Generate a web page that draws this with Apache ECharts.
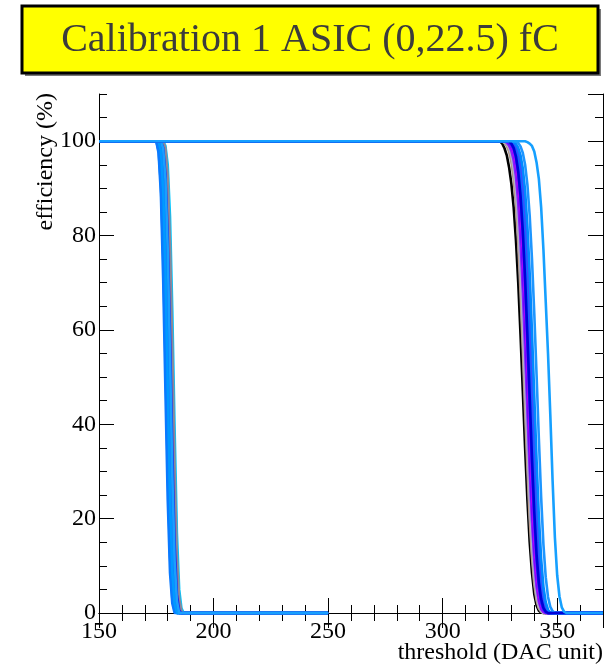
<!DOCTYPE html>
<html>
<head>
<meta charset="utf-8">
<title>Calibration 1 ASIC (0,22.5) fC</title>
<script src="https://cdn.jsdelivr.net/npm/echarts@6/dist/echarts.min.js"></script>
<style>
  html, body { margin: 0; padding: 0; background: #ffffff; }
  #chart { width: 605px; height: 665px; }
</style>
</head>
<body>
<div id="chart"></div>
<script>
// ---- Threshold scans, one curve per channel ----
// Each scan is 100 % up to its first listed DAC value, then follows the listed
// efficiencies at consecutive DAC steps, then stays at 0 % to the end of the scan.

// Scan ranges (DAC units)
const scanRange0fC  = [150, 250];
const scanRange22fC = [150, 370];

// Injected charge 0 fC: first DAC value of each channel's transition
const start0fC = [178, 178, 177, 176, 175, 177, 178, 176, 177, 176, 177, 178, 175, 177, 176, 177];
// efficiencies (%) at consecutive DAC values from the start above
const eff0fC = [
  [100, 97, 88, 70, 45, 22, 7, 1.5, 0],
  [100, 98, 90, 72, 47, 23, 8, 2, 0],
  [100, 97.5, 89, 71, 46, 22, 7.5, 1.5, 0],
  [100, 98.5, 93, 80, 58, 33, 13, 3, 0.5, 0],
  [100, 98, 91, 76, 54, 30, 12, 3, 0.4, 0],
  [100, 98, 91.5, 76, 53, 28, 10, 2.5, 0],
  [100, 99, 95, 84, 64, 39, 17, 5, 1, 0],
  [100, 97, 87, 67, 42, 19, 6, 1, 0],
  [100, 98.8, 94, 82, 61, 35, 14, 3.5, 0.5, 0],
  [100, 98.2, 92, 77, 55, 31, 12, 3, 0],
  [100, 97, 87.5, 68, 43, 20, 6.5, 1.2, 0],
  [100, 98.5, 92.5, 78, 56, 31, 12, 3, 0.4, 0],
  [100, 97.5, 89, 71, 47, 24, 8.5, 2, 0],
  [100, 98.6, 93, 80, 59, 35, 15, 4, 0.6, 0],
  [100, 98, 90, 73, 49, 25, 9, 2, 0],
  [100, 98.4, 92, 77, 54, 29, 11, 2.5, 0]
];
const colors0fC = ['#a0a0a0', '#7b1fff', '#0000ff', '#1f4fff', '#0070ff', '#3a3aff', '#00c8ff', '#0090ff',
                   '#5a2dff', '#0050e8', '#1464ff', '#8a8a9a', '#0a7aff', '#2828e6', '#0099ff', '#18a0ff'];

// Injected charge 22.5 fC
const start22fC = [325, 326, 326, 327, 326, 327, 327, 328, 328, 329, 328, 329, 328, 330, 329, 330, 330, 332, 329, 336];
const eff22fC = [
  [100, 99.5, 98.5, 97, 94.5, 91, 86, 79, 70, 59, 47, 35, 24, 15, 8.5, 4, 1.6, 0.5, 0.1, 0],
  [100, 99.6, 99, 97.8, 95.6, 92, 86.5, 78.5, 68, 56, 43, 31, 20, 12, 6.2, 2.8, 1, 0.3, 0],
  [100, 99.7, 99.2, 98.2, 96.4, 93.2, 88, 80.5, 70.5, 58.5, 45.5, 33, 22, 13, 7, 3.2, 1.2, 0.4, 0],
  [100, 99.5, 98.8, 97.4, 95, 91, 84.5, 75.5, 64, 51, 38, 26, 16, 9, 4.4, 1.8, 0.6, 0.1, 0],
  [100, 99.8, 99.4, 98.6, 97, 94.2, 89.6, 82.5, 73, 61.5, 48.5, 36, 24.5, 15, 8.2, 3.8, 1.5, 0.5, 0],
  [100, 99.7, 99.2, 98.3, 96.5, 93.5, 88.5, 81, 71, 59, 46, 33.5, 22, 13, 6.8, 3, 1.1, 0.3, 0],
  [100, 99.7, 99.1, 98, 96, 92.6, 87, 79, 68.5, 56, 43, 30.5, 19.5, 11.2, 5.6, 2.4, 0.8, 0.2, 0],
  [100, 99.6, 99, 97.8, 95.5, 91.5, 85, 75.5, 63.5, 50, 36.5, 24.5, 14.8, 8, 3.8, 1.5, 0.5, 0.1, 0],
  [100, 99.8, 99.3, 98.4, 96.6, 93.5, 88.2, 80, 69, 56, 42, 29, 18, 10, 5, 2.1, 0.7, 0.2, 0],
  [100, 99.7, 99.1, 97.9, 95.7, 91.8, 85.5, 76.5, 65, 51.5, 38, 25.5, 15.5, 8.4, 4, 1.6, 0.5, 0],
  [100, 99.6, 98.9, 97.6, 95.2, 91.2, 85, 76, 64.5, 51, 37.5, 25, 15, 8, 3.7, 1.4, 0.4, 0],
  [100, 99.8, 99.4, 98.6, 97, 94, 89, 81.5, 71, 58, 44, 30.5, 19, 10.5, 5, 2, 0.6, 0.1, 0],
  [100, 99.7, 99.2, 98.3, 96.5, 93.2, 88, 80, 69.5, 57, 43.5, 30.5, 19.5, 11, 5.4, 2.2, 0.7, 0.1, 0],
  [100, 99.6, 98.8, 97.2, 94.4, 89.6, 82, 71.5, 58.5, 44.5, 31, 19.5, 10.8, 5.2, 2.1, 0.7, 0.2, 0],
  [100, 99.7, 99.2, 98.2, 96.2, 92.8, 87.3, 79, 68, 55, 41.5, 28.5, 17.5, 9.6, 4.6, 1.9, 0.6, 0.1, 0],
  [100, 99.7, 99.1, 97.9, 95.6, 91.6, 85.2, 76, 64.5, 51, 37.5, 25, 15, 8, 3.7, 1.4, 0.4, 0],
  [100, 99.8, 99.4, 98.6, 97, 94.2, 89.5, 82, 72, 59.5, 46, 32.5, 20.5, 11.5, 5.6, 2.3, 0.7, 0.1, 0],
  [100, 99.6, 98.9, 97.5, 95, 90.8, 84.2, 75, 63.5, 50.5, 37, 24.5, 14.5, 7.6, 3.4, 1.3, 0.4, 0],
  [100, 99.5, 98.6, 96.8, 93.6, 88.5, 81, 71, 59, 46, 33, 21.5, 12.5, 6.5, 3, 1.1, 0.3, 0],
  [100, 99.8, 99.5, 99, 97.8, 95.5, 92, 86, 77, 66, 55, 42, 28, 16, 8, 3.5, 1.2, 0.3, 0]
];
const colors22fC = ['#000000', '#9c9c9c', '#c9926e', '#8090b8', '#aab2d0', '#a87866', '#8a1cff', '#0000ff',
                    '#1c1cf0', '#0038ff', '#b400ff', '#0058ff', '#2a2aff', '#0a46f5', '#0070ff', '#3b4bff',
                    '#0088ff', '#1e96ff', '#0000d8', '#16a0ff'];

// Axis ticks / labels
const xMin = 150, xMax = 370, xMajor = 50, xMinor = 10;
const yMin = 0, yMax = 110, yMajor = 20, yMinor = 5;

const titleText = 'Calibration 1 ASIC (0,22.5) fC';
const xTitle = 'threshold (DAC unit)';
const yTitle = 'efficiency (%)';

// ---- build ----
const serif = '"Liberation Serif", "DejaVu Serif", "Times New Roman", serif';

function scanPoints(range, start, effs) {
  const pts = [[range[0], 100]];
  effs.forEach((e, i) => pts.push([start + i, e]));
  pts.push([range[1], 0]);
  return pts;
}

const series = [];
function addGroup(range, starts, effs, colors, tag) {
  starts.forEach((s, i) => {
    series.push({
      name: tag + ' ch' + i,
      type: 'line',
      xAxisIndex: 0,
      yAxisIndex: 0,
      data: scanPoints(range, s, effs[i]),
      showSymbol: false,
      symbol: 'none',
      clip: false,
      lineStyle: { color: colors[i], width: 2.6 },
      itemStyle: { color: colors[i] },
      emphasis: { disabled: true },
      silent: true
    });
  });
}
addGroup(scanRange0fC, start0fC, eff0fC, colors0fC, '0fC');
addGroup(scanRange22fC, start22fC, eff22fC, colors22fC, '22.5fC');

const frameLine = { show: true, lineStyle: { color: '#000', width: 1 } };
const labelStyle = { fontFamily: serif, fontSize: 24, color: '#000' };

function xAxisDef(grid, pos, step, tickLen, withLabels, withLine) {
  return {
    gridIndex: grid, type: 'value', position: pos,
    min: xMin, max: xMax, interval: step,
    axisLine: withLine ? frameLine : { show: false },
    axisTick: { show: true, inside: true, length: tickLen, lineStyle: { color: '#000', width: 1 } },
    axisLabel: withLabels ? Object.assign({ show: true, margin: 7, showMaxLabel: false }, labelStyle) : { show: false },
    splitLine: { show: false },
    minorTick: { show: false }
  };
}
function yAxisDef(grid, pos, step, tickLen, withLabels, withLine) {
  return {
    gridIndex: grid, type: 'value', position: pos,
    min: yMin, max: yMax, interval: step,
    axisLine: withLine ? frameLine : { show: false },
    axisTick: { show: true, inside: true, length: tickLen, lineStyle: { color: '#000', width: 1 } },
    axisLabel: withLabels ? Object.assign({ show: true, margin: 3, showMaxLabel: false }, labelStyle) : { show: false },
    splitLine: { show: false },
    minorTick: { show: false }
  };
}

const plotRect = { left: 99, top: 94, width: 504, height: 519 };

const option = {
  animation: false,
  backgroundColor: '#ffffff',
  grid: [
    Object.assign({ containLabel: false }, plotRect),
    Object.assign({ containLabel: false }, plotRect)
  ],
  xAxis: [
    xAxisDef(0, 'bottom', xMajor, 15, true, true),
    xAxisDef(0, 'top', xMajor, 15, false, true),
    xAxisDef(1, 'bottom', xMinor, 8, false, false),
    xAxisDef(1, 'top', xMinor, 8, false, false)
  ],
  yAxis: [
    yAxisDef(0, 'left', yMajor, 15, true, true),
    yAxisDef(0, 'right', yMajor, 15, false, true),
    yAxisDef(1, 'left', yMinor, 8, false, false),
    yAxisDef(1, 'right', yMinor, 8, false, false)
  ],
  series: series,
  graphic: [
    // title box with its shadow
    { type: 'rect', shape: { x: 25, y: 9, width: 576, height: 67 }, style: { fill: '#7a7a7a' }, z: 10, silent: true },
    { type: 'rect', shape: { x: 22, y: 6, width: 576, height: 67 },
      style: { fill: '#ffff00', stroke: '#000000', lineWidth: 3 }, z: 11, silent: true },
    { type: 'text', x: 310, y: 40, z: 12, silent: true,
      style: { text: titleText, font: '40px ' + serif, fill: '#3c3c3c', align: 'center', verticalAlign: 'middle' } },
    // axis titles
    { type: 'text', x: 603, y: 653, z: 12, silent: true,
      style: { text: xTitle, font: '24px ' + serif, fill: '#000', align: 'right', verticalAlign: 'middle' } },
    { type: 'text', x: 46, y: 93, rotation: Math.PI / 2, z: 12, silent: true,
      style: { text: yTitle, font: '24px ' + serif, fill: '#000', align: 'right', verticalAlign: 'middle' } }
  ]
};

const chart = echarts.init(document.getElementById('chart'), null, { renderer: 'canvas' });
chart.setOption(option);
</script>
</body>
</html>
